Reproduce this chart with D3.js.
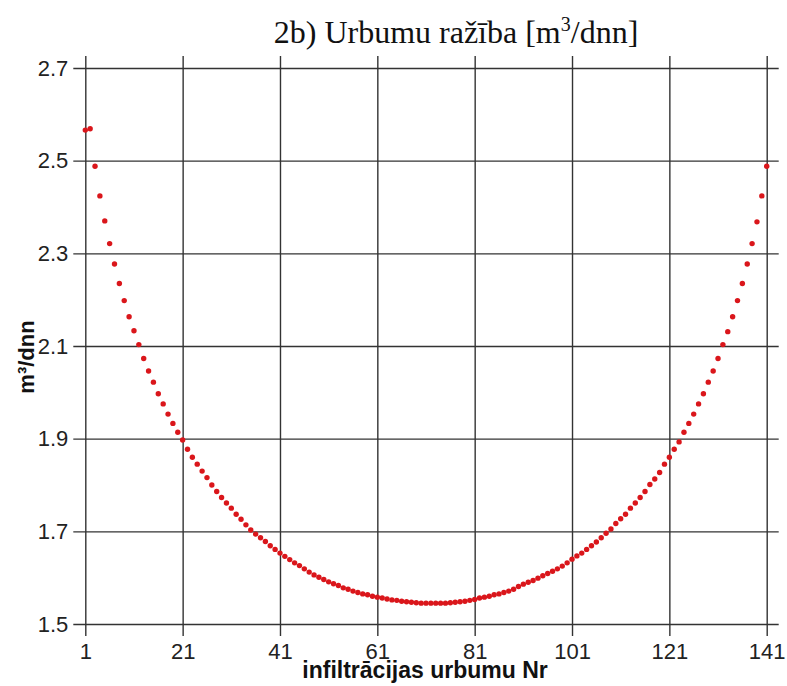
<!DOCTYPE html>
<html lang="lv">
<head>
<meta charset="UTF-8">
<title>Urbumu ražība</title>
<script src="https://d3js.org/d3.v7.min.js"></script>
<style>
  body { margin: 0; background: #fff; }
  .grid line { stroke: #333; stroke-width: 1.4; }
  .grid text { font-family: "Liberation Sans", Arial, sans-serif; font-size: 22px; fill: #222; }
</style>
</head>
<body>
<svg width="787" height="686" id="grafiks"></svg>
<script>
// urbumu numuri un ražība (m3/dnn), nolasīts no attēla
var wellNr = d3.range(1, 142);
var flow = [
  2.566, 2.569, 2.488, 2.424, 2.370, 2.321, 2.277, 2.235, 2.198, 2.163,
  2.133, 2.103, 2.073, 2.046, 2.022, 1.997, 1.975, 1.953, 1.933, 1.914,
  1.897, 1.877, 1.860, 1.845, 1.830, 1.816, 1.800, 1.786, 1.773, 1.761,
  1.750, 1.737, 1.726, 1.714, 1.703, 1.694, 1.686, 1.678, 1.669, 1.661,
  1.653, 1.646, 1.639, 1.632, 1.626, 1.619, 1.612, 1.606, 1.601, 1.596,
  1.591, 1.587, 1.583, 1.578, 1.575, 1.571, 1.568, 1.565, 1.563, 1.560,
  1.558, 1.556, 1.554, 1.552, 1.551, 1.549, 1.548, 1.547, 1.546, 1.545,
  1.545, 1.545, 1.545, 1.545, 1.545, 1.546, 1.547, 1.548, 1.549, 1.551,
  1.553, 1.556, 1.558, 1.560, 1.563, 1.565, 1.568, 1.571, 1.575, 1.581,
  1.586, 1.590, 1.594, 1.599, 1.604, 1.609, 1.614, 1.619, 1.625, 1.632,
  1.640, 1.647, 1.653, 1.661, 1.669, 1.677, 1.686, 1.696, 1.705, 1.717,
  1.727, 1.737, 1.750, 1.761, 1.773, 1.786, 1.801, 1.813, 1.827, 1.845,
  1.860, 1.877, 1.893, 1.914, 1.933, 1.953, 1.975, 1.997, 2.022, 2.046,
  2.073, 2.103, 2.131, 2.163, 2.198, 2.235, 2.277, 2.321, 2.368, 2.424,
  2.488
];
var xTicks = [1, 21, 41, 61, 81, 101, 121, 141];
var yTicks = [1.5, 1.7, 1.9, 2.1, 2.3, 2.5, 2.7];

var svg = d3.select("svg"),
    plotL = 85.3, plotR = 766.7, plotT = 68, plotB = 624,
    tick = 12;

var x = d3.scaleLinear().domain([1, 141]).range([plotL, plotR]);
var y = d3.scaleLinear().domain([1.5, 2.7]).range([plotB, plotT]);

// vertikālās līnijas + skaitļi apakšā
var gx = svg.append("g")
    .attr("class", "grid")
    .attr("transform", "translate(0," + (plotB + tick) + ")")
    .call(d3.axisBottom(x).tickValues(xTicks).tickFormat(d3.format("d"))
        .tickSize(-(plotB - plotT + 2 * tick)).tickPadding(7));
gx.select(".domain").remove();

// horizontālās līnijas + skaitļi kreisajā pusē
var gy = svg.append("g")
    .attr("class", "grid")
    .attr("transform", "translate(" + (plotR + tick) + ",0)")
    .call(d3.axisLeft(y).tickValues(yTicks).tickFormat(d3.format(".1f"))
        .tickSize(plotR - plotL + 2 * tick).tickPadding(5));
gy.select(".domain").remove();

// punkti
svg.append("g")
  .selectAll("circle")
  .data(wellNr)
  .enter().append("circle")
    .attr("cx", function (d) { return x(d); })
    .attr("cy", function (d, i) { return y(flow[i]); })
    .attr("r", 2.7)
    .attr("fill", "#da161b");

// virsraksts
var title = svg.append("text")
    .attr("x", 456)
    .attr("y", 43)
    .attr("text-anchor", "middle")
    .style("font-family", "'Liberation Serif', 'Times New Roman', serif")
    .style("font-size", "32px")
    .style("fill", "#111");
title.append("tspan").text("2b) Urbumu ražība [m");
title.append("tspan").attr("dy", -12).style("font-size", "20px").text("3");
title.append("tspan").attr("dy", 12).text("/dnn]");

// asu nosaukumi
svg.append("text")
    .attr("x", 425)
    .attr("y", 678)
    .attr("text-anchor", "middle")
    .style("font-family", "'Liberation Sans', Arial, sans-serif")
    .style("font-size", "23px")
    .style("font-weight", "bold")
    .style("fill", "#111")
    .text("infiltrācijas urbumu Nr");

svg.append("text")
    .attr("transform", "translate(34,357) rotate(-90)")
    .attr("text-anchor", "middle")
    .style("font-family", "'Liberation Sans', Arial, sans-serif")
    .style("font-size", "22px")
    .style("font-weight", "bold")
    .style("fill", "#111")
    .text("m³/dnn");
</script>
</body>
</html>
